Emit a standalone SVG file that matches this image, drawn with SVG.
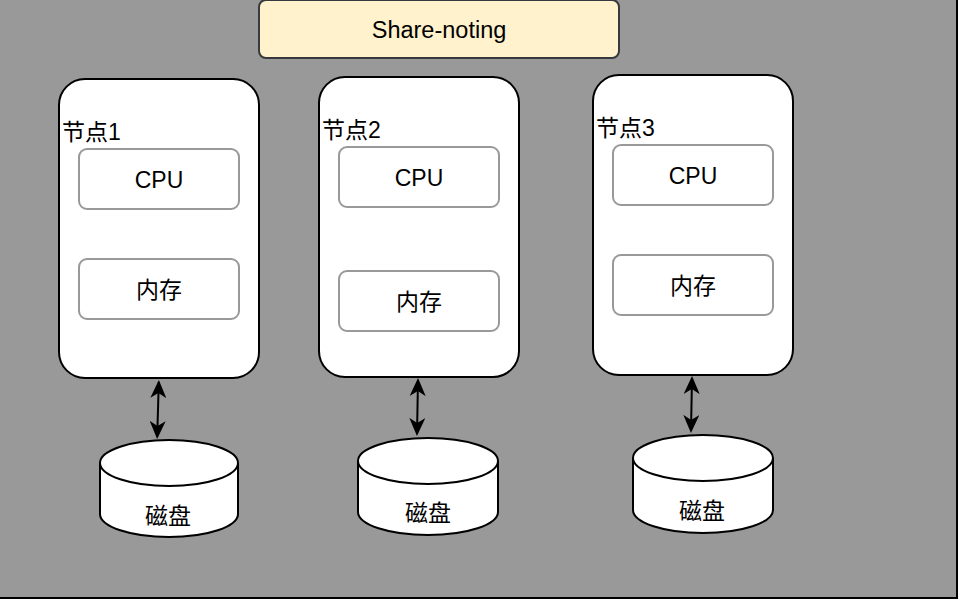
<svg xmlns="http://www.w3.org/2000/svg" width="958" height="600" viewBox="0 0 958 600">
<defs>
<style>
text{font-family:"Liberation Sans","Noto Sans CJK SC",sans-serif;font-size:23px;fill:#000;}
.c{text-anchor:middle;dominant-baseline:central;}
.node{fill:#fff;stroke:#000;stroke-width:2;}
.inner{fill:#fff;stroke:#999;stroke-width:2;}
.disk{fill:#fff;stroke:#000;stroke-width:2;}
.edge{stroke:#000;stroke-width:2;fill:none;marker-start:url(#arr);marker-end:url(#arr);}
</style>
<marker id="arr" viewBox="0 0 18 16" refX="16" refY="8" markerWidth="18" markerHeight="16" markerUnits="userSpaceOnUse" orient="auto-start-reverse">
<path d="M0,0 L18,8 L0,16 L5,8 Z" fill="#000"/>
</marker>
</defs>
<rect x="-1" y="-1" width="958" height="599" fill="#999999" stroke="#000" stroke-width="2"/>
<g id="title">
<rect x="259" y="0" width="360" height="58" rx="7" fill="#fff2cc" stroke="#36393d" stroke-width="2"/>
<text class="c" x="439" y="30" style="font-size:23.5px">Share-noting</text>
</g>
<g id="node1">
<rect class="node" x="59" y="79" width="200" height="299" rx="26"/>
<text x="62" y="140">节点1</text>
<rect class="inner" x="79" y="149" width="160" height="60" rx="8"/>
<text class="c" x="159" y="180">CPU</text>
<rect class="inner" x="79" y="259" width="160" height="60" rx="8"/>
<text class="c" x="159" y="290">内存</text>
</g>
<g id="node2">
<rect class="node" x="319" y="77" width="200" height="300" rx="26"/>
<text x="322" y="138">节点2</text>
<rect class="inner" x="339" y="147" width="160" height="60" rx="8"/>
<text class="c" x="419" y="178">CPU</text>
<rect class="inner" x="339" y="271" width="160" height="60" rx="8"/>
<text class="c" x="419" y="302">内存</text>
</g>
<g id="node3">
<rect class="node" x="593" y="75" width="200" height="300" rx="26"/>
<text x="596" y="136">节点3</text>
<rect class="inner" x="613" y="145" width="160" height="60" rx="8"/>
<text class="c" x="693" y="176">CPU</text>
<rect class="inner" x="613" y="255" width="160" height="60" rx="8"/>
<text class="c" x="693" y="286">内存</text>
</g>
<g id="disk1">
<path class="disk" d="M100,463 A69,23 0 0 1 238,463 L238,514 A69,23 0 0 1 100,514 Z"/>
<path class="disk" d="M100,463 A69,23 0 0 0 238,463"/>
<text class="c" x="168" y="516">磁盘</text>
</g>
<g id="disk2">
<path class="disk" d="M358,461 A70,23 0 0 1 498,461 L498,512 A70,23 0 0 1 358,512 Z"/>
<path class="disk" d="M358,461 A70,23 0 0 0 498,461"/>
<text class="c" x="428" y="513">磁盘</text>
</g>
<g id="disk3">
<path class="disk" d="M633,458 A70,23 0 0 1 773,458 L773,510 A70,23 0 0 1 633,510 Z"/>
<path class="disk" d="M633,458 A70,23 0 0 0 773,458"/>
<text class="c" x="702" y="511">磁盘</text>
</g>
<g id="connectors">
<line class="edge" x1="158.8" y1="382" x2="157.2" y2="437"/>
<line class="edge" x1="418" y1="380" x2="417" y2="434"/>
<line class="edge" x1="692" y1="378" x2="691" y2="431"/>
</g>
</svg>
